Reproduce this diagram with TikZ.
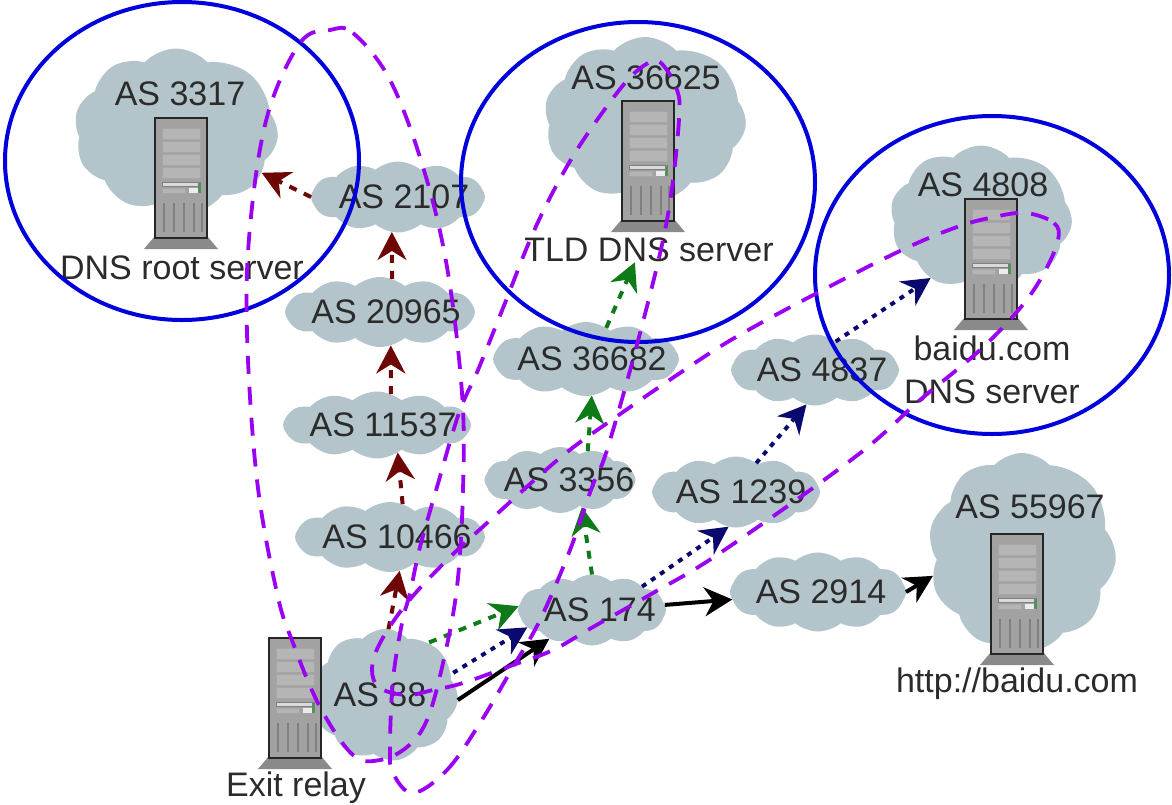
\documentclass[tikz,border=0pt]{standalone}
\usepackage{fontspec}
\setmainfont{Liberation Sans}
\usetikzlibrary{arrows.meta}
\usetikzlibrary{shapes}
\definecolor{cloudgrey}{HTML}{B3C5CA}
\definecolor{rackgrey}{HTML}{A2A2A2}
\definecolor{inkgrey}{HTML}{2B2B2B}
\definecolor{ringblue}{HTML}{0000DC}
\definecolor{loopviolet}{HTML}{9A00F2}
\definecolor{hopred}{HTML}{6E0606}
\definecolor{hopgreen}{HTML}{0E7A18}
\definecolor{hopnavy}{HTML}{0A0A6E}
\tikzset{
    ascloud/.style={draw=none, fill=cloudgrey, cloud, cloud puffs=12, cloud puff arc=80, cloud ignores aspect, inner sep=0pt, outer sep=0pt},
    bigcloud/.style={ascloud, cloud puffs=9.5, cloud puff arc=95},
    aslabel/.style={text=inkgrey, font=\fontsize{34}{38}\selectfont, inner sep=0pt},
    dnsring/.style={draw=ringblue, line width=4pt, ellipse, inner sep=0pt},
    loopline/.style={draw=loopviolet, line width=3.8pt, dash pattern=on 18pt off 13pt},
    hop/.style={-{Stealth[length=28pt, width=29pt, inset=9pt]}, line width=4pt},
    redhop/.style={hop, hopred, dash pattern=on 8pt off 8pt},
    greenhop/.style={hop, hopgreen, dash pattern=on 8pt off 8pt},
    navyhop/.style={hop, hopnavy, dash pattern=on 5pt off 6pt},
    blackhop/.style={hop, black},
    server/.pic={
        \fill[rackgrey!85!black] (-26, 58) -- (26, 58) -- (37, 71) -- (-37, 71) -- cycle;
        \draw[fill=rackgrey, draw=black!85, line width=2.4pt] (-26, -60) rectangle (26, 60);
        \foreach \baytop in {-50, -37, -24, -11}
            \draw[fill=rackgrey!80!white, draw=black!35, line width=0.8pt] (-19, \baytop) rectangle (19, \baytop + 11);
        \draw[fill=white!60!rackgrey, draw=black!50, line width=0.8pt] (-19, 4) rectangle (19, 8);
        \draw[fill=rackgrey!80!white, draw=black!35, line width=0.8pt] (-19, 10) rectangle (4, 15);
        \fill[white!80!rackgrey] (8, 10) rectangle (17, 15);
        \fill[hopgreen!50!rackgrey] (17, 5) rectangle (20, 15);
        \foreach \ventx in {-17, -7, 3, 13, 21}
            \draw[black!50, line width=1.6pt] (\ventx, 25) -- (\ventx, 54);
    }
}
\begin{document}
\begin{tikzpicture}[x=1pt, y=-1pt]

    \useasboundingbox (0, 0) rectangle (1172, 804);

    % Declare the clouds
    \node[bigcloud, minimum width=204pt, minimum height=165pt] at (176, 131) (AS3317) {};
    \node[bigcloud, minimum width=202pt, minimum height=164pt] at (645, 119) (AS36625) {};
    \node[bigcloud, minimum width=182pt, minimum height=145pt] at (981, 218) (AS4808) {};
    \node[bigcloud, minimum width=188pt, minimum height=198pt] at (1022, 552) (AS55967) {};
    \node[bigcloud, minimum width=146pt, minimum height=132pt] at (385, 695) (AS88) {};
    \node[ascloud, minimum width=174pt, minimum height=71pt, label={[aslabel, xshift=6pt]center:AS 2107}] at (398, 197) (AS2107) {};
    \node[ascloud, minimum width=190pt, minimum height=70pt, label={[aslabel, xshift=6pt]center:AS 20965}] at (380, 312) (AS20965) {};
    \node[ascloud, minimum width=188pt, minimum height=67pt, label={[aslabel, xshift=6pt]center:AS 11537}] at (377, 425) (AS11537) {};
    \node[ascloud, minimum width=190pt, minimum height=70pt, label={[aslabel, xshift=7pt]center:AS 10466}] at (390, 537) (AS10466) {};
    \node[ascloud, minimum width=148pt, minimum height=71pt, label={[aslabel, xshift=8pt]center:AS 174}] at (592, 610) (AS174) {};
    \node[ascloud, minimum width=151pt, minimum height=66pt, label={[aslabel, xshift=9pt]center:AS 3356}] at (560, 480) (AS3356) {};
    \node[ascloud, minimum width=186pt, minimum height=74pt, label={[aslabel, xshift=6pt]center:AS 36682}] at (586, 359) (AS36682) {};
    \node[ascloud, minimum width=168pt, minimum height=71pt, label={[aslabel, xshift=7pt]center:AS 4837}] at (815, 370) (AS4837) {};
    \node[ascloud, minimum width=168pt, minimum height=71pt, label={[aslabel, xshift=5pt]center:AS 1239}] at (736, 492) (AS1239) {};
    \node[ascloud, minimum width=176pt, minimum height=79pt, label={[aslabel, xshift=3pt]center:AS 2914}] at (818, 592) (AS2914) {};

    % Declare the servers
    \pic at (181, 178) {server};
    \pic at (648, 161) {server};
    \pic at (991, 259) {server};
    \pic at (1017, 594) {server};
    \pic at (295, 698) {server};

    % Declare the labels
    \node[aslabel] at (180, 94) (label3317) {AS 3317};
    \node[aslabel] at (646, 78) (label36625) {AS 36625};
    \node[aslabel] at (983, 185) (label4808) {AS 4808};
    \node[aslabel] at (1030, 507) (label55967) {AS 55967};
    \node[aslabel] at (380, 695) (label88) {AS 88};
    \node[aslabel] at (182, 268) (rootlabel) {DNS root server};
    \node[aslabel] at (649, 250) (tldlabel) {TLD DNS server};
    \node[aslabel] at (992, 348) (baidulabel) {baidu.com};
    \node[aslabel] at (992, 392) (baidudns) {DNS server};
    \node[aslabel] at (1017, 684) (httplabel) {http://baidu.com};
    \node[aslabel] at (296, 788) (exitlabel) {Exit relay};

    % Declare the path to the root
    \draw[redhop] (AS88.87) -- (AS10466.286);
    \draw[redhop] (AS10466.69) -- (AS11537.307);
    \draw[redhop] (AS11537.66) -- (AS20965.288);
    \draw[redhop] (AS20965.70) -- (AS2107.260);
    \draw[redhop] (AS2107.180) -- (AS3317.334);

    % Declare the path to the TLD
    \draw[greenhop] (AS88.50) -- (AS174.177);
    \draw[greenhop] (AS174.90) -- (AS3356.309);
    \draw[greenhop] (AS3356.46) -- (AS36682.279);
    \draw[greenhop] (AS36682.57) -- (tldlabel.221);

    % Declare the path to the baidu server
    \draw[navyhop] (AS88.18) -- (AS174.195);
    \draw[navyhop] (AS174.25) -- (AS1239.258);
    \draw[navyhop] (AS1239.55) -- (AS4837.256);
    \draw[navyhop] (AS4837.54) -- (AS4808.230);

    % Declare the data path
    \draw[blackhop] (AS88.356) -- (AS174.214);
    \draw[blackhop] (AS174.4) -- (AS2914.185);
    \draw[blackhop] (AS2914.0) -- (AS55967.195);

    % Declare the rings
    \node[dnsring, minimum width=354pt, minimum height=318pt] at (182, 161) (rootring) {};
    \node[dnsring, minimum width=354pt, minimum height=320pt] at (638, 182) (tldring) {};
    \node[dnsring, minimum width=354pt, minimum height=318pt] at (992, 275) (baidring) {};

    % Declare the dashed loops
    \draw[loopline] plot[smooth cycle, tension=0.6] coordinates {(330, 30) (353, 33) (390, 80) (423, 167) (447, 267) (462, 393) (463, 490) (457, 587) (443, 663) (427, 720) (407, 747) (380, 760) (353, 755) (320, 707) (293, 643) (277, 593) (257, 480) (247, 333) (250, 227) (267, 117) (300, 43)};
    \draw[loopline] plot[smooth cycle, tension=0.6] coordinates {(413, 793) (447, 770) (480, 723) (513, 667) (540, 620) (570, 550) (592, 487) (607, 450) (639, 337) (667, 220) (679, 120) (676, 87) (660, 62) (648, 63) (625, 83) (588, 133) (561, 177) (533, 233) (505, 303) (478, 370) (459, 413) (437, 487) (420, 547) (410, 593) (402, 623) (393, 680) (390, 747) (393, 773)};
    \draw[loopline] plot[smooth cycle, tension=0.6] coordinates {(1026, 213) (1054, 223) (1058, 240) (1044, 273) (1021, 307) (980, 350) (920, 400) (855, 457) (720, 553) (653, 593) (593, 627) (553, 650) (513, 665) (463, 683) (433, 690) (407, 695) (380, 688) (372, 670) (380, 643) (407, 603) (447, 560) (487, 523) (561, 457) (616, 417) (680, 373) (736, 337) (819, 292) (902, 250) (957, 227) (994, 217)};

\end{tikzpicture}
\end{document}
